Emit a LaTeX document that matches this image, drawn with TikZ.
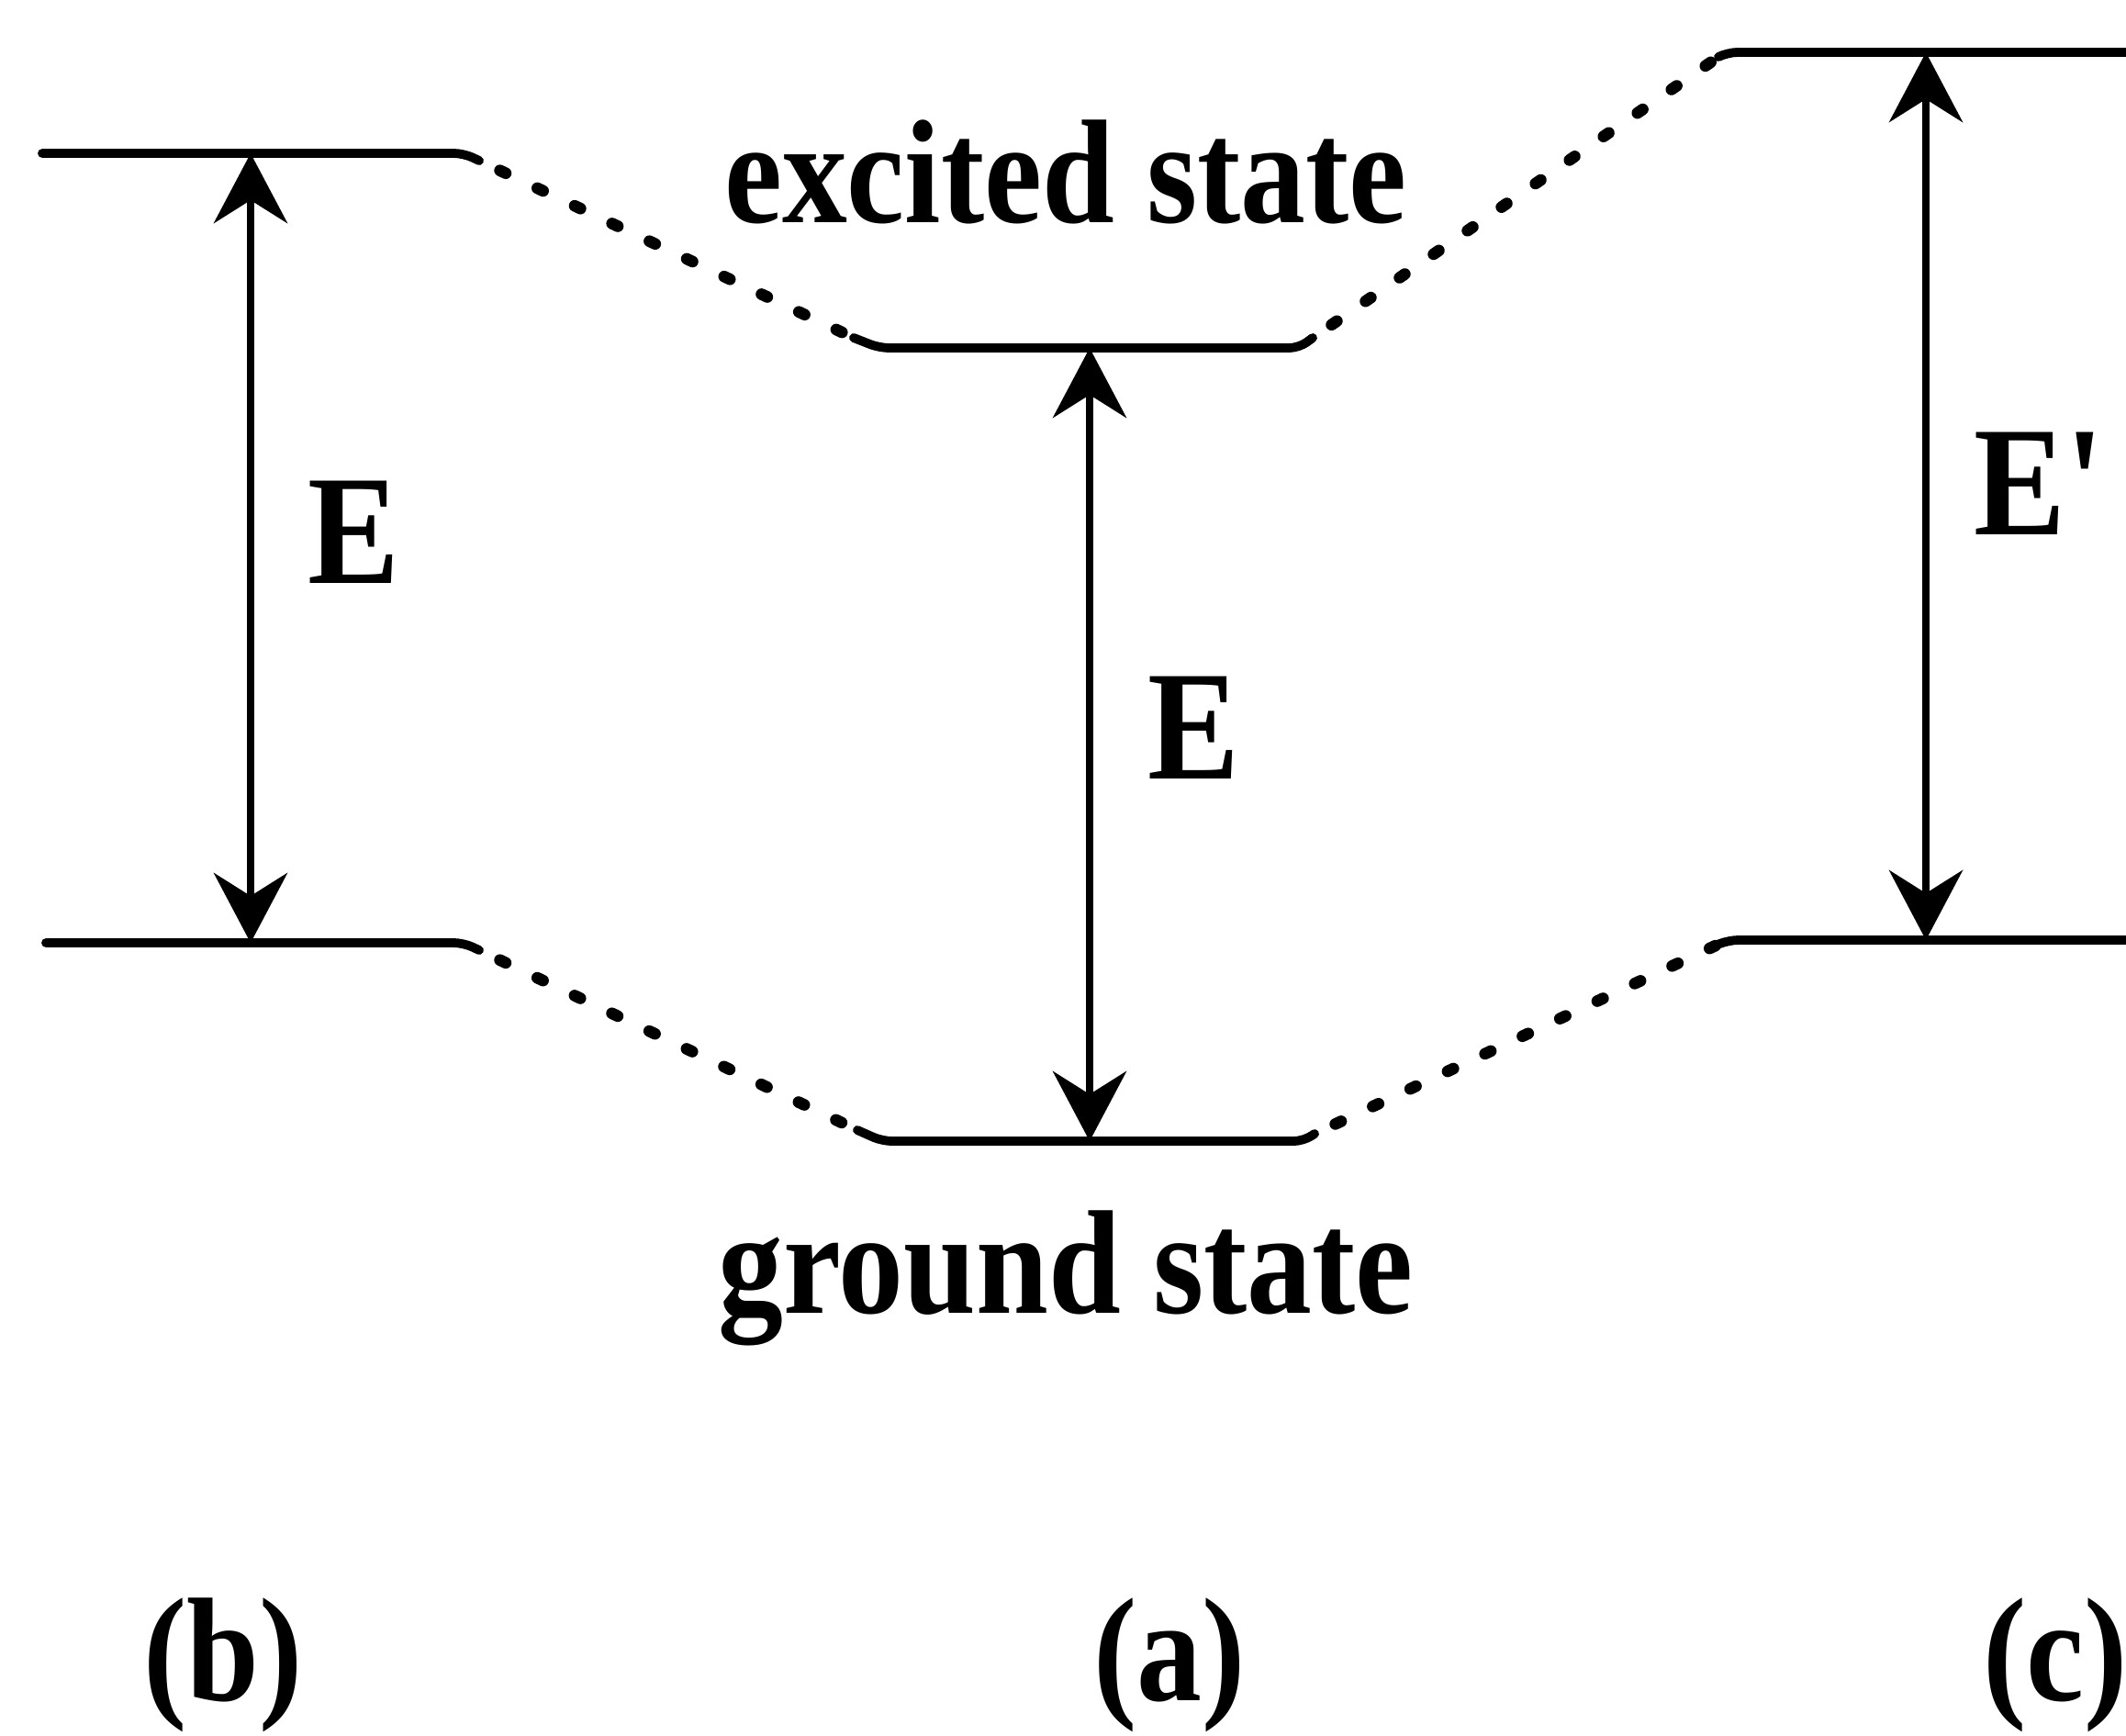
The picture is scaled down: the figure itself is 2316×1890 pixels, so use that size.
\documentclass[tikz,border=0pt]{standalone}
\usepackage{fontspec}
\newfontfamily\lblfont[FakeStretch=0.88]{Liberation Serif}
\usetikzlibrary{arrows.meta}
\begin{document}
\begin{tikzpicture}[x=0.01cm,y=-0.01cm,
  level/.style={line width=2.8pt, rounded corners=3pt, line cap=round},
  conn/.style={line width=3.6pt, line cap=round, dash pattern=on 0.07cm off 0.38cm, dash phase=0.2cm},
  tipshape/.tip={Stealth[length=0.76cm,width=0.80cm,inset=0.25cm]},
  trans/.style={line width=2.2pt, tipshape-tipshape},
  txt/.style={font=\lblfont\bfseries\fontsize{45.8}{50}\selectfont, inner sep=0pt, anchor=base},
  big/.style={font=\lblfont\bfseries\fontsize{48.4}{52}\selectfont, inner sep=0pt, anchor=base}]
\useasboundingbox (0,0) rectangle (2316,1890);

% level end points
\coordinate (bTl) at (46,167);   \coordinate (bTc) at (505,167);  \coordinate (bTr) at (522,175);
\coordinate (bBl) at (50,1027);  \coordinate (bBc) at (505,1027); \coordinate (bBr) at (522,1035);
\coordinate (aEl) at (930,368);  \coordinate (aEc1) at (958,379); \coordinate (aEc2) at (1415,379); \coordinate (aEr) at (1430,368);
\coordinate (aGl) at (934,1231); \coordinate (aGc1) at (961,1243); \coordinate (aGc2) at (1420,1243); \coordinate (aGr) at (1432,1235);
\coordinate (cTl) at (1872,62);  \coordinate (cTc) at (1882,57);  \coordinate (cTr) at (2330,57);
\coordinate (cBl) at (1871,1029); \coordinate (cBc) at (1883,1024); \coordinate (cBr) at (2330,1024);

% arrow end points
\coordinate (bUp) at (273,167);  \coordinate (bDn) at (273,1027);
\coordinate (aUp) at (1187,379); \coordinate (aDn) at (1187,1243);
\coordinate (cUp) at (2098,57);  \coordinate (cDn) at (2098,1024);

% levels
\draw[level] (bTl) -- (bTc) -- (bTr);
\draw[level] (bBl) -- (bBc) -- (bBr);
\draw[level] (aEl) -- (aEc1) -- (aEc2) -- (aEr);
\draw[level] (aGl) -- (aGc1) -- (aGc2) -- (aGr);
\draw[level] (cTl) -- (cTc) -- (cTr);
\draw[level] (cBl) -- (cBc) -- (cBr);

% dotted correlation lines
\draw[conn] (bTr) -- (aEl);
\draw[conn] (aEr) -- (cTl);
\draw[conn] (bBr) -- (aGl);
\draw[conn] (aGr) -- (cBl);

% transitions
\draw[trans] (bDn) -- (bUp);
\draw[trans] (aDn) -- (aUp);
\draw[trans] (cDn) -- (cUp);

% labels
\node[txt] (exc) at (1161,242) {excited state};
\node[txt] (gnd) at (1161,1430) {ground state};
\node[big] (Eb) at (385,635) {E};
\node[big] (Ea) at (1300,848) {E};
\node[big, anchor=base west] (Ec) at (2150,582) {E{\char"0027}};
\node[txt] (lb) at (243,1852) {(b)};
\node[txt] (la) at (1274,1852) {(a)};
\node[txt, anchor=base west] (lc) at (2160,1852) {(c)};
\end{tikzpicture}
\end{document}
